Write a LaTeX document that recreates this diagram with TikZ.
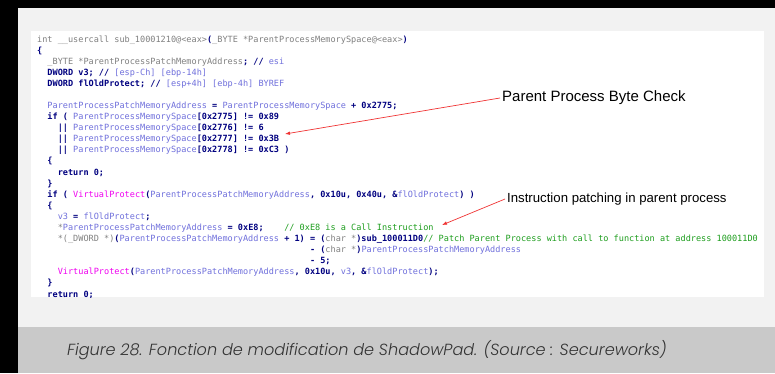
\documentclass[tikz,border=0pt]{standalone}
\usepackage{fontspec}
\setmainfont{Liberation Sans}
\newfontfamily\codefont{DejaVu Sans Mono}
\newfontfamily\capfont{Poppins}[UprightFont=* Light, ItalicFont=* Light Italic]
\usetikzlibrary{arrows.meta}
\definecolor{cgray}{HTML}{808080}
\definecolor{cnavy}{HTML}{000080}
\definecolor{cvar}{HTML}{7070DC}
\definecolor{cmag}{HTML}{F000F0}
\definecolor{cgreen}{HTML}{1E9E1E}
\definecolor{cred}{HTML}{F03434}
\definecolor{panelgray}{HTML}{F2F2F2}
\definecolor{capband}{HTML}{C9C9C9}
\definecolor{captxt}{HTML}{333333}
\newcommand\tkG[1]{\textcolor{cgray}{#1}}
\newcommand\tkN[1]{\textcolor{cnavy}{\bfseries #1}}
\newcommand\tkV[1]{\textcolor{cvar}{#1}}
\newcommand\tkM[1]{\textcolor{cmag}{#1}}
\newcommand\tkC[1]{\textcolor{cgreen}{#1}}
\begin{document}
\begin{tikzpicture}[x=1pt,y=-1pt,
  code/.style={anchor=base west, inner sep=0pt, font=\codefont\fontsize{8.55}{11}\selectfont},
  label/.style={anchor=west, inner sep=2pt, text=black},
  redarrow/.style={draw=cred, line width=0.7pt, -{Latex[length=5pt,width=3.6pt]}}]
\useasboundingbox (0,0) rectangle (775,373);
% background
\fill[black] (0,0) rectangle (775,373);
\fill[panelgray] (18,8) rectangle (775,327);
\fill[capband] (18,327) rectangle (775,373);
\fill[white] (31,31) rectangle (764,297);
% code
\begin{scope}
\clip (31,31) rectangle (764,297.5);
\node[code] (L1) at ({37+0*5.148},42) {\tkG{int \_\_usercall sub\_10001210@<eax>}\tkN{(}\tkG{\_BYTE *ParentProcessMemorySpace@<eax>}\tkN{)}};
\node[code] (L2) at ({37+0*5.148},53.09) {\tkN{\{}};
\node[code] (L3) at ({37+2*5.148},64.18) {\tkG{\_BYTE *ParentProcessPatchMemoryAddress}\tkN{; //} \tkV{esi}};
\node[code] (L4) at ({37+2*5.148},75.27) {\tkN{DWORD v3; //} \tkV{[esp-Ch] [ebp-14h]}};
\node[code] (L5) at ({37+2*5.148},86.36) {\tkN{DWORD flOldProtect; //} \tkV{[esp+4h] [ebp-4h] BYREF}};
\node[code] (L7) at ({37+2*5.148},108.54) {\tkV{ParentProcessPatchMemoryAddress} \tkN{=} \tkV{ParentProcessMemorySpace} \tkN{+ 0x2775;}};
\node[code] (L8) at ({37+2*5.148},119.63) {\tkN{if (} \tkV{ParentProcessMemorySpace}\tkN{[0x2775] != 0x89}};
\node[code] (L9) at ({37+4*5.148},130.72) {\tkN{||} \tkV{ParentProcessMemorySpace}\tkN{[0x2776] != 6}};
\node[code] (L10) at ({37+4*5.148},141.81) {\tkN{||} \tkV{ParentProcessMemorySpace}\tkN{[0x2777] != 0x3B}};
\node[code] (L11) at ({37+4*5.148},152.9) {\tkN{||} \tkV{ParentProcessMemorySpace}\tkN{[0x2778] != 0xC3 )}};
\node[code] (L12) at ({37+2*5.148},163.99) {\tkN{\{}};
\node[code] (L13) at ({37+4*5.148},175.08) {\tkN{return 0;}};
\node[code] (L14) at ({37+2*5.148},186.17) {\tkN{\}}};
\node[code] (L15) at ({37+2*5.148},197.26) {\tkN{if (} \tkM{VirtualProtect}\tkN{(}\tkV{ParentProcessPatchMemoryAddress}\tkN{, 0x10u, 0x40u, \&}\tkV{flOldProtect}\tkN{) )}};
\node[code] (L16) at ({37+2*5.148},208.35) {\tkN{\{}};
\node[code] (L17) at ({37+4*5.148},219.44) {\tkV{v3} \tkN{=} \tkV{flOldProtect}\tkN{;}};
\node[code] (L18) at ({37+4*5.148},230.53) {\tkG{*}\tkV{ParentProcessPatchMemoryAddress} \tkN{= 0xE8;}~~~~\tkC{// 0xE8 is a Call Instruction}};
\node[code] (L19) at ({37+4*5.148},241.62) {\tkG{*(\_DWORD *)}\tkN{(}\tkV{ParentProcessPatchMemoryAddress} \tkN{+ 1) =} \tkN{(}\tkG{char *}\tkN{)sub\_100011D0}\tkC{// Patch Parent Process with call to function at address 100011D0}};
\node[code] (L20) at ({37+53*5.148},252.71) {\tkN{-} \tkN{(}\tkG{char *}\tkN{)}\tkV{ParentProcessPatchMemoryAddress}};
\node[code] (L21) at ({37+53*5.148},263.8) {\tkN{- 5;}};
\node[code] (L22) at ({37+4*5.148},274.89) {\tkM{VirtualProtect}\tkN{(}\tkV{ParentProcessPatchMemoryAddress}\tkN{, 0x10u,} \tkV{v3}\tkN{, \&}\tkV{flOldProtect}\tkN{);}};
\node[code] (L23) at ({37+2*5.148},285.98) {\tkN{\}}};
\node[code] (L24) at ({37+2*5.148},297.07) {\tkN{return 0;}};
\end{scope}
% annotations
\node[label, font=\fontsize{15}{18}\selectfont] (lab1) at (500,98) {Parent Process Byte Check};
\node[label, font=\fontsize{13.2}{16}\selectfont] (lab2) at (505,199) {Instruction patching in parent process};
\coordinate (t1) at (285,134);
\coordinate (t2) at (442,225);
\draw[redarrow] (lab1.west) -- (t1);
\draw[redarrow] (lab2.west) -- (t2);
% caption
\node[anchor=west, inner sep=0pt, text=captxt, font=\capfont\itshape\fontsize{16.1}{19}\selectfont] (cap) at (67,350) {Figure 28. Fonction de modification de ShadowPad. (Source : Secureworks)};
\end{tikzpicture}
\end{document}
